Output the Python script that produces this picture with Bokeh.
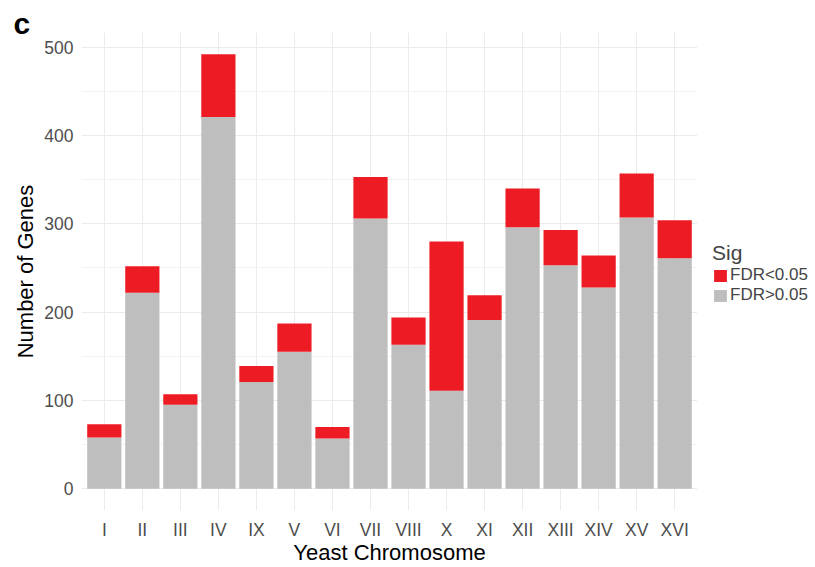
from bokeh.plotting import figure
from bokeh.layouts import row
from bokeh.models import (FactorRange, Range1d, SingleIntervalTicker, Legend, LegendItem, Title)
from bokeh.embed import file_html
from bokeh.resources import INLINE

chromosomes = ["I", "II", "III", "IV", "IX", "V", "VI", "VII", "VIII", "X",
               "XI", "XII", "XIII", "XIV", "XV", "XVI"]
not_sig = [58, 222, 95, 421, 121, 155, 57, 306, 163, 111, 191, 296, 253, 228, 307, 261]
total = [73, 252, 107, 492, 139, 187, 70, 353, 194, 280, 219, 340, 293, 264, 357, 304]
sig = [t - n for t, n in zip(total, not_sig)]
legend_labels = ["FDR<0.05", "FDR>0.05"]

RED = "#ED1C24"
GRAY = "#BEBEBE"
FONT = "Liberation Sans"

p = figure(width=697, height=567, output_backend="svg", toolbar_location=None,
           x_range=FactorRange(factors=chromosomes, range_padding=0.1, range_padding_units="absolute"),
           y_range=Range1d(-24.6, 516.6),
           min_border_left=81, min_border_right=0, min_border_top=32, min_border_bottom=0)
p.outline_line_color = None
p.background_fill_color = "white"
p.border_fill_color = "white"

src = dict(x=chromosomes, ns=not_sig, s=sig)
r = p.vbar_stack(["ns", "s"], x="x", width=0.9, color=[GRAY, RED], line_color=None, source=src)

# axes
p.yaxis.ticker = SingleIntervalTicker(interval=100, num_minor_ticks=2)
for ax in (p.xaxis[0], p.yaxis[0]):
    ax.axis_line_color = None
    ax.major_tick_line_color = None
    ax.minor_tick_line_color = None
    ax.major_tick_out = 0
    ax.major_tick_in = 0
    ax.minor_tick_out = 0
    ax.minor_tick_in = 0
    ax.major_label_text_font = FONT
    ax.major_label_text_font_size = "17.5px"
    ax.major_label_text_color = "#4D4D4D"
    ax.axis_label_text_font = FONT
    ax.axis_label_text_font_size = "22px"
    ax.axis_label_text_font_style = "normal"
    ax.axis_label_text_color = "black"
p.xaxis.axis_label = "Yeast Chromosome"
p.yaxis.axis_label = "Number of Genes"
p.xaxis.major_label_standoff = 9
p.xaxis.axis_label_standoff = -3
p.yaxis.major_label_standoff = 8
p.yaxis.axis_label_standoff = 3

# grid
p.ygrid.grid_line_color = "#EBEBEB"
p.ygrid.grid_line_width = 1
p.ygrid.minor_grid_line_color = "#F3F3F3"
p.ygrid.minor_grid_line_width = 1
p.xgrid.grid_line_color = "#EBEBEB"
p.xgrid.grid_line_width = 1

p.add_layout(Title(text="c", align="left", offset=-68, standoff=-14,
                   text_font=FONT, text_font_size="30px", text_font_style="bold",
                   text_color="black"), "above")

# legend panel
q = figure(width=118, height=567, output_backend="svg", toolbar_location=None,
           x_range=Range1d(0, 1), y_range=Range1d(0, 1),
           x_axis_location=None, y_axis_location=None, min_border=0)
q.outline_line_color = None
q.grid.grid_line_color = None
q.border_fill_color = "white"
# off-screen proxies that only carry the legend swatch styles
r_sig = q.vbar(x=[5], top=[6], bottom=[5], width=0.5, color=RED, line_color=None)
r_ns = q.vbar(x=[5], top=[6], bottom=[5], width=0.5, color=GRAY, line_color=None)

legend = Legend(items=[LegendItem(label=legend_labels[0], renderers=[r_sig]),
                       LegendItem(label=legend_labels[1], renderers=[r_ns])],
                location=(15, 205), title="Sig")
legend.title_text_font = FONT
legend.title_text_font_size = "21px"
legend.title_text_font_style = "normal"
legend.title_standoff = 0
legend.label_text_font = FONT
legend.label_text_font_size = "17px"
legend.label_text_line_height = 0.7
legend.label_standoff = 2
legend.label_height = 15
legend.glyph_width = 16
legend.glyph_height = 15
legend.spacing = 0
legend.padding = 0
legend.margin = 0
legend.border_line_color = None
legend.background_fill_alpha = 0
q.add_layout(legend, "center")

layout = row(p, q, spacing=0)
open("out.html", "w").write(file_html(layout, INLINE))
